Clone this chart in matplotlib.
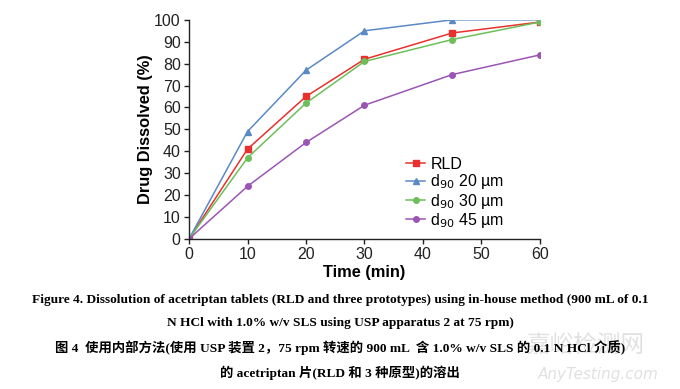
import matplotlib.pyplot as plt

# Dissolution data
time_min = [0, 10, 20, 30, 45, 60]
rld = [0, 41, 65, 82, 94, 99]
d90_20 = [0, 49, 77, 95, 100, 100]
d90_30 = [0, 37, 62, 81, 91, 99]
d90_45 = [0, 24, 44, 61, 75, 84]

x_ticks = [0, 10, 20, 30, 40, 50, 60]
y_ticks = list(range(0, 101, 10))

caption_en = ["Figure 4. Dissolution of acetriptan tablets (RLD and three prototypes) using in-house method (900 mL of 0.1",
              "N HCl with 1.0% w/v SLS using USP apparatus 2 at 75 rpm)"]
caption_zh = ["图 4  使用内部方法(使用 USP 装置 2，75 rpm 转速的 900 mL  含 1.0% w/v SLS 的 0.1 N HCl 介质)",
              "的 acetriptan 片(RLD 和 3 种原型)的溶出"]

fig = plt.figure(figsize=(6.8, 3.89), dpi=100)
ax = fig.add_axes([0.278, 0.386, 0.516, 0.563])

ax.plot(time_min, rld, color='#e8312f', marker='s', markersize=4.5, lw=1.1, label='RLD')
ax.plot(time_min, d90_20, color='#5a8ac6', marker='^', markersize=4.5, lw=1.1, label='d$_{90}$ 20 µm')
ax.plot(time_min, d90_30, color='#6cbf5a', marker='o', markersize=4, lw=1.1, label='d$_{90}$ 30 µm')
ax.plot(time_min, d90_45, color='#9b55b5', marker='o', markersize=4, lw=1.1, label='d$_{90}$ 45 µm')

ax.set_xlim(0, 60)
ax.set_ylim(0, 100)
ax.set_xticks(x_ticks)
ax.set_yticks(y_ticks)
ax.spines['top'].set_visible(False)
ax.spines['right'].set_visible(False)
for s in ['left', 'bottom']:
    ax.spines[s].set_linewidth(1.0)
    ax.spines[s].set_color('#222222')
ax.tick_params(direction='out', length=3.5, width=1.0, colors='#222222', labelsize=11.5, pad=2.5)
for lab in ax.get_xticklabels() + ax.get_yticklabels():
    lab.set_family('Liberation Sans')

ax.set_xlabel('Time (min)', fontsize=11.8, fontweight='bold', family='Liberation Sans', labelpad=2)
ax.set_ylabel('Drug Dissolved (%)', fontsize=11.8, fontweight='bold', family='Liberation Sans', labelpad=1)

leg = ax.legend(loc='lower right', bbox_to_anchor=(0.93, -0.01), frameon=False, fontsize=11.5,
                handlelength=1.2, handletextpad=0.3, labelspacing=0.02, borderpad=0.2)
for t in leg.get_texts():
    t.set_family('Liberation Sans')

cap_font = ['Liberation Serif', 'Noto Sans CJK SC']
fig.text(0.5, 1 - 300 / 389, caption_en[0], ha='center', va='center', fontsize=9.6,
         fontweight='bold', family=cap_font)
fig.text(0.5, 1 - 323 / 389, caption_en[1], ha='center', va='center', fontsize=9.6,
         fontweight='bold', family=cap_font)
fig.text(0.5, 1 - 348 / 389, caption_zh[0], ha='center', va='center', fontsize=9.6,
         fontweight='bold', family=cap_font)
fig.text(0.5, 1 - 373 / 389, caption_zh[1], ha='center', va='center', fontsize=9.6,
         fontweight='bold', family=cap_font)

# faint watermark
fig.text(0.86, 1 - 346 / 389, '嘉峪检测网', ha='center', va='center', fontsize=17,
         color='#d4d4d4', family='Noto Sans CJK SC', alpha=0.7, zorder=-1)
fig.text(0.88, 1 - 374 / 389, 'AnyTesting.com', ha='center', va='center', fontsize=11,
         color='#d4d4d4', style='italic', family='DejaVu Sans', alpha=0.7, zorder=-1)

fig.savefig('out.png', dpi=100)
